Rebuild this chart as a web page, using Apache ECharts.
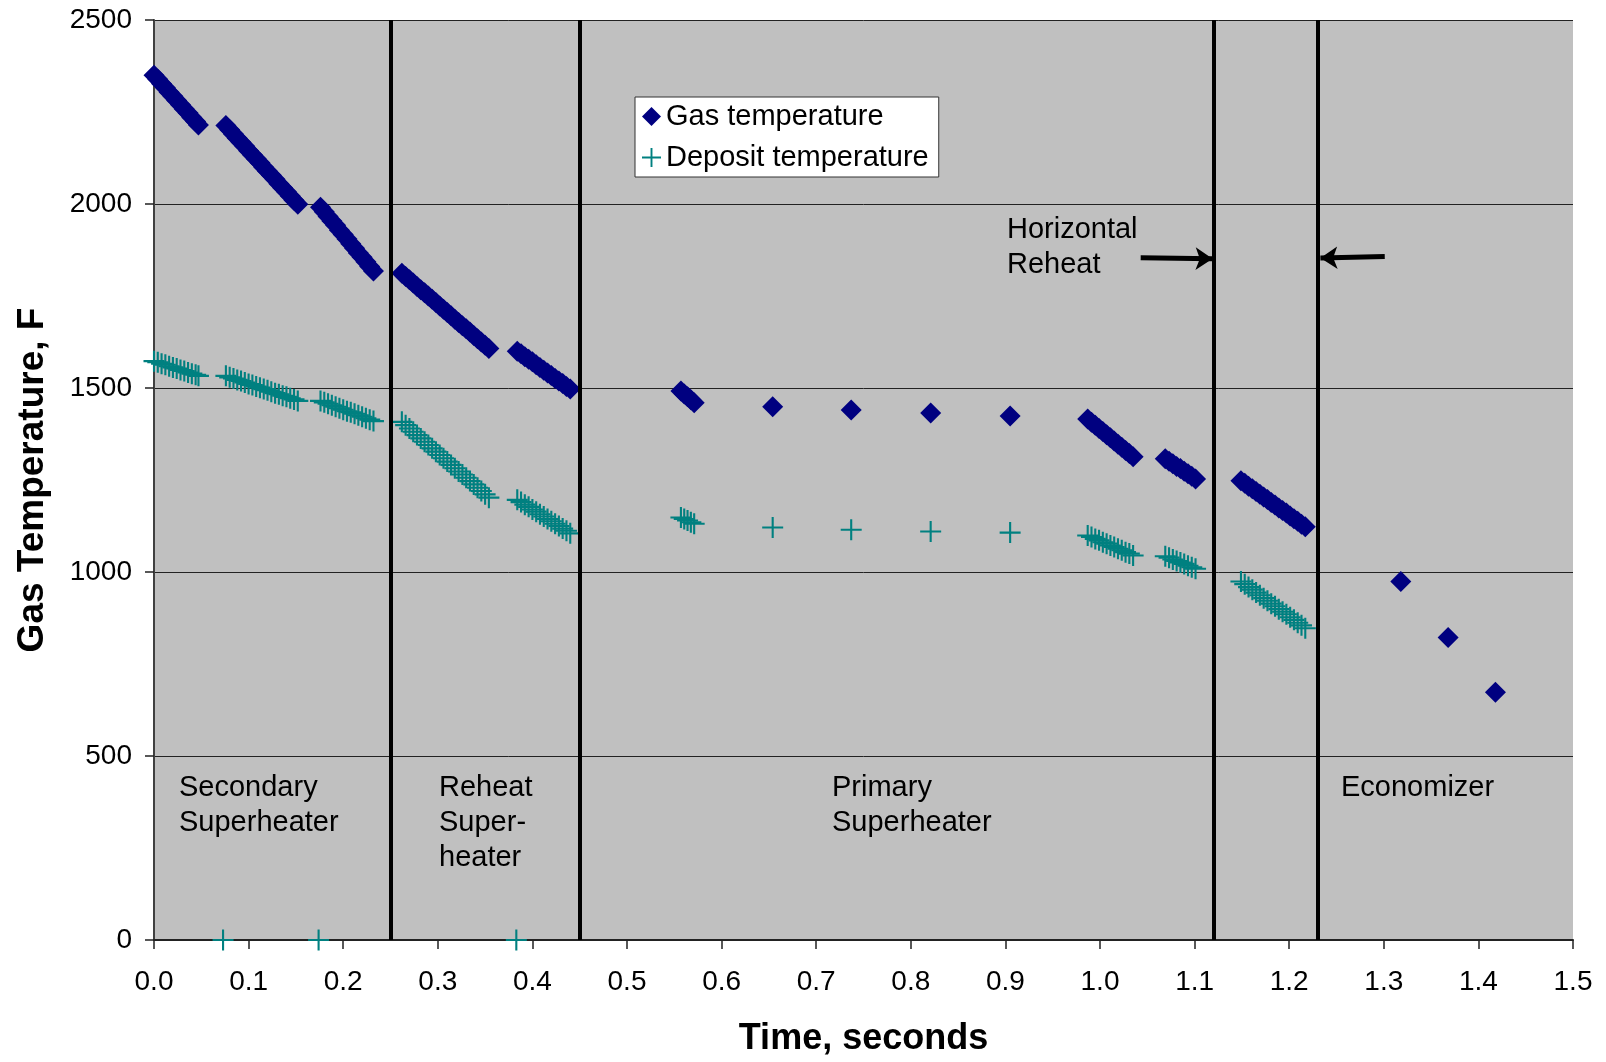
<!DOCTYPE html>
<html>
<head>
<meta charset="utf-8">
<script src="https://cdn.jsdelivr.net/npm/echarts@6/dist/echarts.min.js"></script>
<style>
  html, body { margin: 0; padding: 0; background: #fff; }
  #chart { width: 1606px; height: 1062px; }
</style>
</head>
<body>
<div id="chart"></div>
<script>
// Gas and deposit temperatures along the flue gas path (seconds of residence time).
// Rows are grouped by heat-transfer bank; null means no value recorded for that series.
const timeSec = [
  // secondary superheater, first bank
  0.000, 0.004, 0.008, 0.012, 0.016, 0.020, 0.024, 0.028, 0.032, 0.036, 0.040, 0.044, 0.047,
  0.073,
  0.076, 0.080, 0.084, 0.088, 0.092, 0.096, 0.100, 0.104, 0.108, 0.112, 0.116, 0.120, 0.124, 0.128, 0.132, 0.136, 0.140, 0.144, 0.148, 0.152,
  0.174,
  0.176, 0.180, 0.184, 0.188, 0.192, 0.196, 0.200, 0.204, 0.208, 0.212, 0.216, 0.220, 0.224, 0.228, 0.232,
  // reheat superheater
  0.262, 0.266, 0.270, 0.274, 0.278, 0.282, 0.286, 0.290, 0.294, 0.298, 0.302, 0.306, 0.310, 0.314, 0.318, 0.322, 0.326, 0.330, 0.334, 0.338, 0.342, 0.346, 0.350, 0.354,
  0.383,
  0.384, 0.388, 0.392, 0.396, 0.400, 0.404, 0.408, 0.412, 0.416, 0.420, 0.424, 0.428, 0.432, 0.436, 0.440,
  // primary superheater
  0.557, 0.5605, 0.564, 0.5675, 0.571,
  0.654, 0.737, 0.821, 0.905,
  0.987, 0.991, 0.995, 0.999, 1.003, 1.007, 1.011, 1.015, 1.019, 1.023, 1.027, 1.031, 1.035,
  1.069, 1.073, 1.077, 1.081, 1.085, 1.089, 1.093, 1.097, 1.101,
  // horizontal reheat
  1.149, 1.153, 1.157, 1.161, 1.165, 1.169, 1.173, 1.177, 1.181, 1.185, 1.189, 1.193, 1.197, 1.201, 1.205, 1.209, 1.213, 1.217,
  // economizer
  1.318, 1.368, 1.418
];

const gasTempF = [
  2350, 2339, 2327, 2316, 2304, 2293, 2281, 2270, 2258, 2247, 2235, 2224, 2215,
  null,
  2213, 2202, 2190, 2179, 2168, 2157, 2145, 2134, 2123, 2112, 2100, 2089, 2078, 2067, 2055, 2044, 2033, 2022, 2010, 1999,
  null,
  1991, 1979, 1966, 1954, 1942, 1929, 1917, 1905, 1892, 1880, 1867, 1855, 1843, 1830, 1818,
  1812, 1803, 1794, 1785, 1776, 1767, 1759, 1750, 1741, 1732, 1723, 1714, 1705, 1696, 1687, 1678, 1669, 1661, 1652, 1643, 1634, 1625, 1616, 1607,
  null,
  1600, 1593, 1585, 1578, 1571, 1563, 1556, 1548, 1541, 1534, 1526, 1519, 1512, 1504, 1497,
  1492, 1484, 1476, 1468, 1460,
  1449, 1440, 1432, 1424,
  1416, 1407, 1399, 1390, 1382, 1373, 1365, 1356, 1347, 1339, 1330, 1322, 1313,
  1308, 1301, 1294, 1287, 1281, 1274, 1267, 1260, 1253,
  1248, 1241, 1233, 1226, 1219, 1211, 1204, 1197, 1189, 1182, 1174, 1167, 1160, 1152, 1145, 1138, 1130, 1123,
  974, 822, 673
];

const depositTempF = [
  1573, 1570, 1566, 1563, 1559, 1556, 1553, 1549, 1546, 1542, 1539, 1536, 1533,
  0,
  1533, 1529, 1526, 1522, 1519, 1515, 1511, 1508, 1504, 1501, 1497, 1494, 1490, 1486, 1483, 1479, 1476, 1472, 1469, 1465,
  0,
  1465, 1461, 1457, 1453, 1449, 1445, 1441, 1437, 1434, 1430, 1426, 1422, 1418, 1414, 1410,
  1408, 1399, 1390, 1381, 1372, 1363, 1354, 1345, 1336, 1327, 1318, 1309, 1300, 1291, 1282, 1273, 1265, 1256, 1247, 1238, 1229, 1220, 1211, 1202,
  0,
  1196, 1190, 1183, 1177, 1170, 1164, 1157, 1151, 1144, 1138, 1131, 1125, 1118, 1112, 1105,
  1148, 1144, 1140, 1135, 1131,
  1121, 1115, 1110, 1107,
  1099, 1095, 1090, 1086, 1081, 1077, 1072, 1068, 1063, 1059, 1054, 1050, 1045,
  1043, 1039, 1034, 1030, 1026, 1022, 1017, 1013, 1009,
  974, 967, 959, 952, 944, 937, 929, 922, 914, 907, 899, 892, 885, 877, 870, 862, 855, 847,
  null, null, null
];

// Bank boundaries (seconds) drawn as heavy vertical rules
const bankBoundariesSec = [0.25, 0.45, 1.12, 1.23];

// Arrows pointing at the horizontal reheat bank: [fromTime, fromTemp, toTime, toTemp]
const reheatArrows = [
  [1.043, 1854, 1.119, 1851],
  [1.301, 1857, 1.233, 1853]
];

const FONT = '"Liberation Sans", Arial, Helvetica, sans-serif';
const NAVY = '#000080';
const TEAL = '#008080';
const PLUS = 'path://M-1,-10L1,-10L1,-1L10,-1L10,1L1,1L1,10L-1,10L-1,1L-10,1L-10,-1L-1,-1Z';

const toPoints = (vals) => timeSec
  .map((t, i) => (vals[i] == null ? null : [t, vals[i]]))
  .filter(Boolean);

const chart = echarts.init(document.getElementById('chart'), null, { renderer: 'canvas' });

const regionText = (text, left, top) => ({
  type: 'text', left, top, z: 100,
  style: { text, font: '29px ' + FONT, fill: '#000', lineHeight: 35 }
});

chart.setOption({
  animation: false,
  backgroundColor: '#fff',
  textStyle: { fontFamily: FONT },
  grid: {
    left: 154, right: 33, top: 20, bottom: 118,
    show: true, backgroundColor: '#C0C0C0', borderWidth: 0
  },
  legend: {
    orient: 'vertical',
    left: 635, top: 97,
    backgroundColor: '#fff',
    borderColor: '#333', borderWidth: 1,
    padding: [4, 10, 4, 7],
    itemGap: 10, itemWidth: 19, itemHeight: 19,
    textStyle: { fontSize: 29, lineHeight: 31, color: '#000', fontFamily: FONT },
    data: ['Gas temperature', 'Deposit temperature']
  },
  xAxis: {
    type: 'value', min: 0, max: 1.5, interval: 0.1,
    name: 'Time, seconds', nameLocation: 'middle', nameGap: 81,
    nameTextStyle: { fontSize: 36, fontWeight: 'bold', color: '#000', fontFamily: FONT },
    axisLine: { show: true, onZero: false, lineStyle: { color: '#222', width: 2 } },
    axisTick: { show: true, inside: false, length: 9, lineStyle: { color: '#222', width: 1.5 } },
    axisLabel: { fontSize: 28, color: '#000', margin: 28, formatter: (v) => v.toFixed(1), fontFamily: FONT },
    splitLine: { show: false }
  },
  yAxis: {
    type: 'value', min: 0, max: 2500, interval: 500,
    name: 'Gas Temperature, F', nameLocation: 'middle', nameGap: 103, nameRotate: 90,
    nameTextStyle: { fontSize: 37, fontWeight: 'bold', color: '#000', fontFamily: FONT },
    axisLine: { show: true, lineStyle: { color: '#404040', width: 2 } },
    axisTick: { show: true, inside: false, length: 9, lineStyle: { color: '#222', width: 1.5 } },
    axisLabel: { fontSize: 28, color: '#000', margin: 22, formatter: (v) => String(v), fontFamily: FONT },
    splitLine: { show: true, lineStyle: { color: '#222', width: 1 } }
  },
  series: [
    {
      name: 'Gas temperature', type: 'scatter', clip: false, z: 3,
      symbol: 'diamond', symbolSize: 21,
      itemStyle: { color: NAVY, opacity: 1 },
      data: toPoints(gasTempF)
    },
    {
      name: 'Deposit temperature', type: 'scatter', clip: false, z: 3,
      symbol: PLUS, symbolSize: 21,
      itemStyle: { color: TEAL, opacity: 1 },
      data: toPoints(depositTempF)
    },
    {
      name: 'bank rules', type: 'scatter', data: [], z: 6, silent: true,
      markLine: {
        silent: true, animation: false, symbol: 'none',
        label: { show: false },
        lineStyle: { color: '#000', width: 4, type: 'solid' },
        emphasis: { disabled: true },
        data: bankBoundariesSec.map((x) => ({ xAxis: x }))
      }
    },
    {
      name: 'reheat arrows', type: 'scatter', data: [], z: 6, silent: true,
      markLine: {
        silent: true, animation: false,
        symbol: ['none', 'arrow'], symbolSize: 17,
        label: { show: false },
        lineStyle: { color: '#000', width: 5, type: 'solid' },
        emphasis: { disabled: true },
        data: reheatArrows.map(([x0, y0, x1, y1]) => [
          { coord: [x0, y0] }, { coord: [x1, y1] }
        ])
      }
    }
  ],
  graphic: [
    regionText('Secondary\nSuperheater', 179, 770),
    regionText('Reheat\nSuper-\nheater', 439, 770),
    regionText('Primary\nSuperheater', 832, 770),
    regionText('Economizer', 1341, 770),
    regionText('Horizontal\nReheat', 1007, 212)
  ]
});
</script>
</body>
</html>
